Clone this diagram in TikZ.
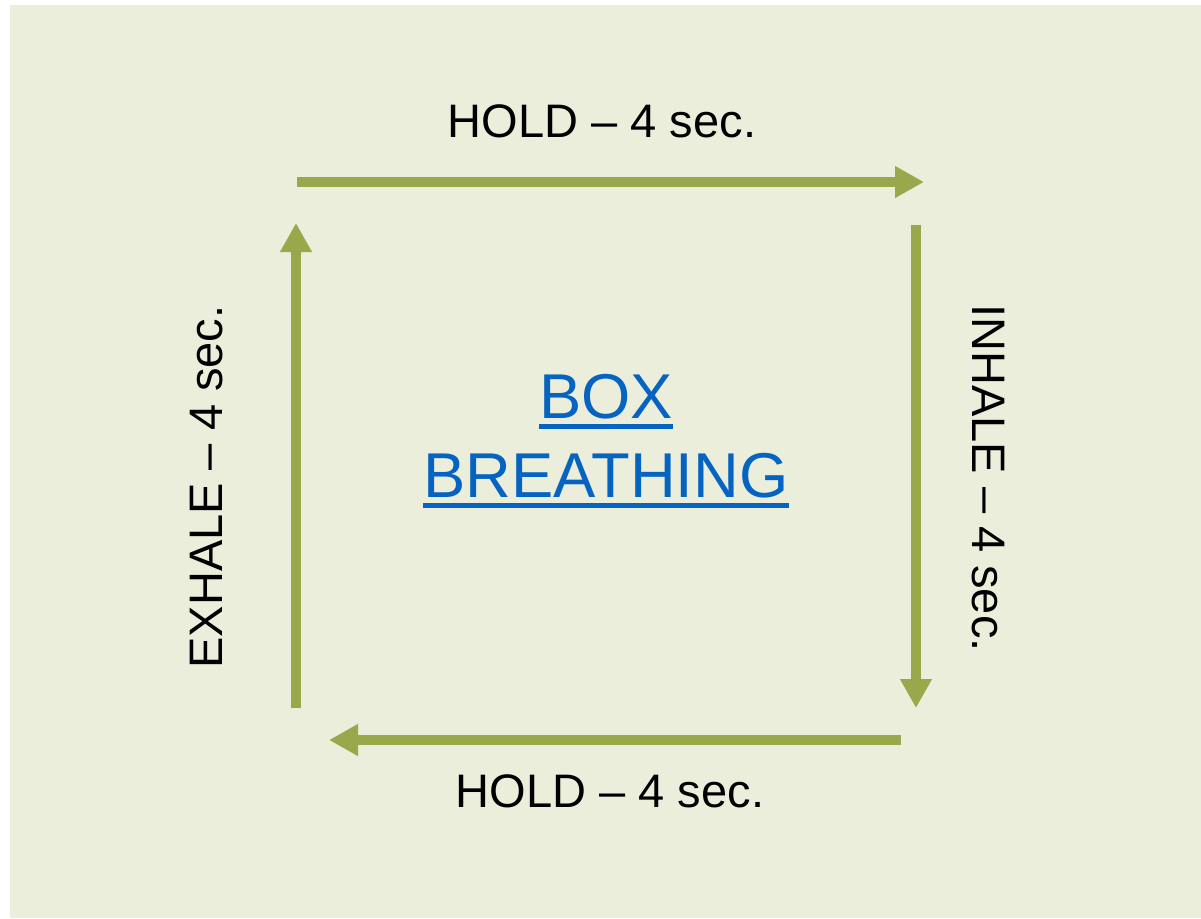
\documentclass[tikz,border=0pt]{standalone}
\usepackage{fontspec}
\setmainfont{Liberation Sans}
\usetikzlibrary{arrows.meta}
\definecolor{bgc}{RGB}{235,238,219}
\definecolor{arrc}{RGB}{152,168,74}
\definecolor{linkc}{RGB}{5,99,193}
\tikzset{
  flow/.style={draw=arrc, line width=7.5pt, -{Triangle[length=21.75pt,width=22.5pt]}},
  lbl/.style={inner sep=0pt, anchor=base, font=\fontsize{35.25}{42}\selectfont, text=black},
  title/.style={inner sep=0pt, anchor=base, font=\fontsize{47.5}{57}\selectfont, text=linkc},
  uline/.style={draw=linkc, line width=3.3pt}
}
\begin{document}
\begin{tikzpicture}[x=0.75pt,y=-0.75pt]
\useasboundingbox (0,0) rectangle (1201,918);
\fill[white] (0,0) rectangle (1201,918);
\fill[bgc] (10,5) rectangle (1201,918);
% arrow ends
\coordinate (t1) at (297,182);
\coordinate (t2) at (924,182);
\coordinate (r1) at (916,225);
\coordinate (r2) at (916,708);
\coordinate (b1) at (901,740);
\coordinate (b2) at (329,740);
\coordinate (l1) at (296,708);
\coordinate (l2) at (296,223);
\draw[flow] (t1) -- (t2);
\draw[flow] (r1) -- (r2);
\draw[flow] (b1) -- (b2);
\draw[flow] (l1) -- (l2);
% labels
\node[lbl] (top) at (602,137) {HOLD – 4 sec.};
\node[lbl] (bot) at (610,807) {HOLD – 4 sec.};
\node[lbl, rotate=90] (left) at (222,487) {EXHALE – 4 sec.};
\node[lbl, rotate=-90] (right) at (972,478) {INHALE – 4 sec.};
% title
\node[title] (box) at (606,418) {BOX};
\node[title] (breath) at (606,497) {BREATHING};
\draw[uline] ([yshift=-6.5pt]box.base west) -- ([yshift=-6.5pt]box.base east);
\draw[uline] ([yshift=-6.5pt]breath.base west) -- ([yshift=-6.5pt]breath.base east);
\end{tikzpicture}
\end{document}
